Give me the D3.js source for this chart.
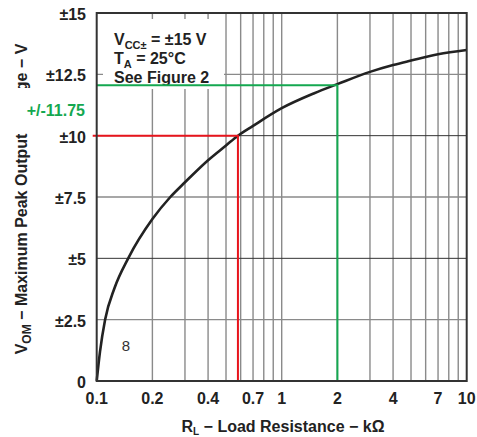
<!DOCTYPE html>
<html>
<head>
<meta charset="utf-8">
<script src="https://cdn.jsdelivr.net/npm/d3@7"></script>
<style>
  body { margin: 0; background: #fff; }
  svg { display: block; font-family: "Liberation Sans", Arial, sans-serif; }
</style>
</head>
<body>
<div id="chart"></div>
<script>
// data
var resistance = [0.1, 0.1042, 0.111, 0.125, 0.148, 0.2, 0.25, 0.3, 0.4, 0.5, 0.58, 0.7, 1, 1.5, 2, 3, 4, 5, 7, 10];
var voltage    = [0, 1.2, 2.5, 3.8, 5, 6.6, 7.5, 8.1, 9.0, 9.6, 10, 10.4, 11.12, 11.73, 12.1, 12.6, 12.88, 13.06, 13.32, 13.49];
var xTicks = [0.1, 0.2, 0.4, 0.7, 1, 2, 4, 7, 10];
var xGrid = [0.2, 0.3, 0.4, 0.5, 0.6, 0.7, 0.8, 0.9, 1, 2, 3, 4, 5, 6, 7, 8, 9];
var yTicks = [0, 2.5, 5, 7.5, 10, 12.5, 15];
var yTickLabels = ["0", "±2.5", "±5", "±7.5", "±10", "±12.5", "±15"];
var redPoint = [0.58, 10];
var greenPoint = [2, 12.05];
var greenLabel = "+/-11.75";

var W = 477, H = 437;
var x = d3.scaleLog().domain([0.1, 10]).range([96.7, 466.7]);
var y = d3.scaleLinear().domain([0, 15]).range([381, 13]);

var svg = d3.select("#chart").append("svg")
  .attr("width", W).attr("height", H);

// grid lines
svg.append("g").selectAll("line").data(xGrid).join("line")
  .attr("x1", function (d) { return x(d); }).attr("x2", function (d) { return x(d); })
  .attr("y1", y(15)).attr("y2", y(0))
  .attr("stroke", "#8a8a8a").attr("stroke-width", 1.4);

svg.append("g").selectAll("line").data(yTicks.slice(1, -1)).join("line")
  .attr("x1", x(0.1)).attr("x2", x(10))
  .attr("y1", function (d) { return y(d); }).attr("y2", function (d) { return y(d); })
  .attr("stroke", function (d) { return d % 5 === 0 ? "#333" : "#8a8a8a"; })
  .attr("stroke-width", function (d) { return d % 5 === 0 ? 1 : 1.4; });

// white box behind the conditions text
svg.append("rect")
  .attr("x", 103).attr("y", 19).attr("width", 121).attr("height", 70)
  .attr("fill", "#fff");

var info = svg.append("g").attr("font-weight", "bold").attr("font-size", 16).attr("fill", "#222");
var t1 = info.append("text").attr("x", 114).attr("y", 45);
t1.append("tspan").text("V");
t1.append("tspan").attr("font-size", 11).attr("dy", 4).text("CC±");
t1.append("tspan").attr("dy", -4).text(" = ±15 V");
var t2 = info.append("text").attr("x", 114).attr("y", 64);
t2.append("tspan").text("T");
t2.append("tspan").attr("font-size", 11).attr("dy", 4).text("A");
t2.append("tspan").attr("dy", -4).text(" = 25°C");
info.append("text").attr("x", 114).attr("y", 83).text("See Figure 2");

// the curve
var pts = resistance.map(function (r, i) { return [r, voltage[i]]; });
svg.append("path")
  .datum(pts)
  .attr("fill", "none")
  .attr("stroke", "#222")
  .attr("stroke-width", 2.6)
  .attr("d", d3.line()
    .x(function (d) { return x(d[0]); })
    .y(function (d) { return y(d[1]); })
    .curve(d3.curveMonotoneX));

// red and green marker lines
svg.append("path")
  .attr("fill", "none").attr("stroke", "#e8141c").attr("stroke-width", 2)
  .attr("d", "M" + (x(0.1) - 4) + "," + y(redPoint[1]) + "H" + x(redPoint[0]) + "V" + y(0));
svg.append("path")
  .attr("fill", "none").attr("stroke", "#14a850").attr("stroke-width", 2)
  .attr("d", "M" + x(0.1) + "," + y(greenPoint[1]) + "H" + x(greenPoint[0]) + "V" + y(0));

// frame
svg.append("rect")
  .attr("x", x(0.1)).attr("y", y(15))
  .attr("width", x(10) - x(0.1)).attr("height", y(0) - y(15))
  .attr("fill", "none").attr("stroke", "#333").attr("stroke-width", 2);

// tick labels
svg.append("g").selectAll("text").data(yTicks).join("text")
  .attr("x", 86).attr("y", function (d) { return y(d) + 7; })
  .attr("text-anchor", "end").attr("font-weight", "bold").attr("font-size", 16).attr("fill", "#222")
  .text(function (d, i) { return yTickLabels[i]; });

svg.append("g").selectAll("text").data(xTicks).join("text")
  .attr("x", function (d) { return x(d); }).attr("y", 404)
  .attr("text-anchor", "middle").attr("font-weight", "bold").attr("font-size", 16).attr("fill", "#222")
  .text(function (d) { return d; });

// axis titles
var xt = svg.append("text")
  .attr("x", 283).attr("y", 432)
  .attr("text-anchor", "middle").attr("font-weight", "bold").attr("font-size", 16).attr("fill", "#222");
xt.append("tspan").text("R");
xt.append("tspan").attr("font-size", 10).attr("dy", 3).text("L");
xt.append("tspan").attr("dy", -3).text(" − Load Resistance − kΩ");

var yt = svg.append("text")
  .attr("transform", "translate(27,199) rotate(-90)")
  .attr("text-anchor", "middle").attr("font-weight", "bold").attr("font-size", 16).attr("fill", "#222");
yt.append("tspan").text("V");
yt.append("tspan").attr("font-size", 12).attr("dy", 4).text("OM");
yt.append("tspan").attr("dy", -4).text(" − Maximum Peak Output Voltage − V");

// green value label over the axis title
svg.append("rect")
  .attr("x", 0).attr("y", 88).attr("width", 92).attr("height", 42)
  .attr("fill", "#fff");
svg.append("text")
  .attr("x", 85).attr("y", 116)
  .attr("text-anchor", "end").attr("font-weight", "bold").attr("font-size", 16).attr("fill", "#14a850")
  .text(greenLabel);

// stray label
svg.append("text")
  .attr("x", 126).attr("y", 351)
  .attr("text-anchor", "middle").attr("font-size", 15).attr("fill", "#333")
  .text("8");
</script>
</body>
</html>
